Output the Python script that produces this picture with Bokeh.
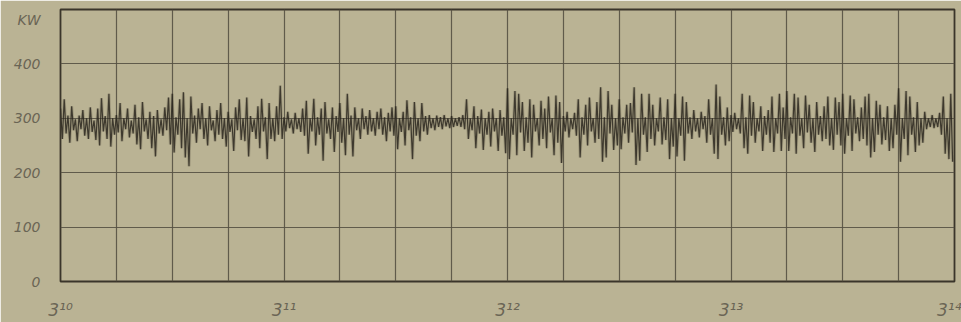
import numpy as np
from bokeh.plotting import figure
from bokeh.models import FixedTicker, Range1d
from bokeh.embed import file_html
from bokeh.resources import INLINE

# Power drawn, kW, sampled every half second from 3:10 to 3:14
minute_labels = ["3\u00b9\u2070", "3\u00b9\u00b9", "3\u00b9\u00b2", "3\u00b9\u00b3", "3\u00b9\u2074"]
kw_ticks = [0, 100, 200, 300, 400]
unit_label = "KW"

kw_3_10 = [
    318, 262, 335, 272, 305, 255, 322, 278, 298, 258, 305, 280, 315, 268, 300, 262, 320, 275, 296, 260, 318, 250, 337, 276, 304, 262, 345, 248, 300, 270,
    306, 274, 328, 258, 300, 280, 318, 265, 296, 272, 325, 252, 302, 243, 330, 276, 298, 262, 312, 245, 304, 230, 315, 272, 298, 268, 320, 278, 338, 252,
    345, 237, 302, 270, 335, 245, 348, 228, 300, 212, 340, 272, 305, 255, 318, 280, 328, 262, 300, 250, 322, 278, 296, 258, 315, 270, 328, 262, 300, 248,
    312, 275, 298, 240, 320, 278, 335, 260, 300, 258, 338, 230, 304, 275, 298, 262, 322, 245, 336, 276, 302, 225, 328, 262, 300, 258, 322, 270, 360, 262,
]
kw_3_11 = [
    302, 276, 312, 282, 298, 272, 310, 280, 300, 275, 318, 268, 332, 235, 300, 276, 336, 250, 302, 270, 318, 222, 330, 272, 298, 262, 320, 238, 304, 275,
    328, 255, 300, 232, 345, 270, 305, 230, 320, 278, 300, 262, 318, 280, 304, 270, 315, 276, 300, 268, 312, 280, 318, 270, 302, 258, 310, 276, 320, 268,
    322, 243, 300, 275, 312, 250, 333, 278, 302, 225, 330, 268, 300, 258, 328, 276, 304, 270, 306, 282, 300, 278, 305, 284, 302, 280, 306, 285, 300, 282,
    304, 284, 300, 286, 302, 284, 306, 280, 335, 262, 300, 278, 322, 245, 304, 272, 316, 242, 300, 270, 312, 248, 318, 276, 300, 240, 315, 268, 302, 236,
]
kw_3_12 = [
    355, 225, 300, 270, 350, 232, 345, 274, 330, 240, 302, 255, 335, 228, 325, 276, 300, 250, 332, 262, 318, 245, 340, 274, 300, 232, 342, 255, 330, 218,
    304, 276, 312, 265, 300, 280, 310, 268, 335, 228, 302, 270, 325, 250, 338, 276, 300, 255, 330, 262, 357, 220, 302, 228, 350, 272, 325, 242, 300, 250,
    335, 243, 302, 272, 325, 255, 328, 274, 357, 214, 300, 222, 345, 270, 302, 238, 345, 262, 325, 250, 300, 276, 338, 252, 302, 260, 335, 225, 300, 248,
    345, 230, 300, 268, 340, 222, 330, 272, 302, 262, 315, 276, 300, 265, 312, 280, 304, 255, 335, 270, 300, 235, 362, 225, 340, 270, 302, 250, 320, 258,
]
kw_3_13 = [
    306, 275, 310, 280, 300, 272, 345, 245, 302, 235, 342, 268, 330, 255, 300, 276, 322, 240, 304, 270, 315, 255, 340, 238, 300, 272, 345, 240, 320, 262,
    350, 240, 302, 272, 345, 235, 338, 268, 300, 245, 342, 274, 325, 255, 300, 238, 330, 270, 304, 258, 322, 262, 340, 250, 300, 242, 338, 270, 330, 250,
    345, 235, 300, 268, 342, 240, 335, 272, 302, 258, 320, 262, 340, 250, 345, 228, 300, 238, 332, 270, 325, 252, 302, 260, 322, 240, 300, 245, 325, 270,
    355, 220, 300, 262, 350, 232, 340, 270, 302, 238, 330, 250, 300, 255, 312, 280, 300, 284, 306, 282, 300, 284, 310, 270, 340, 235, 300, 225, 345, 220,
]

SAMPLE_SECONDS = 0.5
kw = np.array(kw_3_10 + kw_3_11 + kw_3_12 + kw_3_13, dtype=float)
minutes = np.arange(len(kw)) * SAMPLE_SECONDS / 60.0  # minutes after 3:10

PAPER = "#bab394"
INK = "#3a352a"
GRID = "#575142"
LABEL = "#6a6555"

p = figure(
    width=961, height=322,
    x_range=Range1d(0, 4), y_range=Range1d(0, 500),
    output_backend="svg", toolbar_location=None,
    min_border_left=60, min_border_right=7, min_border_top=9, min_border_bottom=35,
    background_fill_color=PAPER, border_fill_color=PAPER,
)
p.outline_line_color = INK
p.outline_line_width = 1.8

# quarter-minute squares on the recording paper
p.xgrid.ticker = FixedTicker(ticks=list(np.arange(0.25, 4.0, 0.25)))
p.ygrid.ticker = FixedTicker(ticks=kw_ticks[1:])
for g in (p.xgrid[0], p.ygrid[0]):
    g.grid_line_color = GRID
    g.grid_line_width = 1.2
    g.grid_line_alpha = 0.9

# trace: soft halo under a dark pen line
p.line(minutes, kw, line_color="#5f594a", line_width=3.0, line_alpha=0.3)
p.line(minutes, kw, line_color="#26221a", line_width=1.2, line_alpha=0.8)

# y axis: kW values, unit written at the top
p.yaxis.ticker = FixedTicker(ticks=kw_ticks + [480])
p.yaxis.major_label_overrides = {**{t: str(t) for t in kw_ticks}, 480: unit_label}
p.yaxis.axis_line_color = None
p.yaxis.major_tick_line_color = None
p.yaxis.minor_tick_line_color = None
p.yaxis.major_label_text_font = "DejaVu Sans"
p.yaxis.major_label_text_font_style = "italic"
p.yaxis.major_label_text_font_size = "14px"
p.yaxis.major_label_text_color = LABEL
p.yaxis.major_label_standoff = 14

# x axis: clock minutes
p.xaxis.ticker = FixedTicker(ticks=list(range(len(minute_labels))))
p.xaxis.major_label_overrides = {i: s for i, s in enumerate(minute_labels)}
p.xaxis.axis_line_color = None
p.xaxis.major_tick_line_color = None
p.xaxis.minor_tick_line_color = None
p.xaxis.major_label_text_font = "DejaVu Sans"
p.xaxis.major_label_text_font_style = "italic"
p.xaxis.major_label_text_font_size = "17px"
p.xaxis.major_label_text_color = LABEL
p.xaxis.major_label_standoff = 12

open("out.html", "w").write(file_html(p, INLINE))
